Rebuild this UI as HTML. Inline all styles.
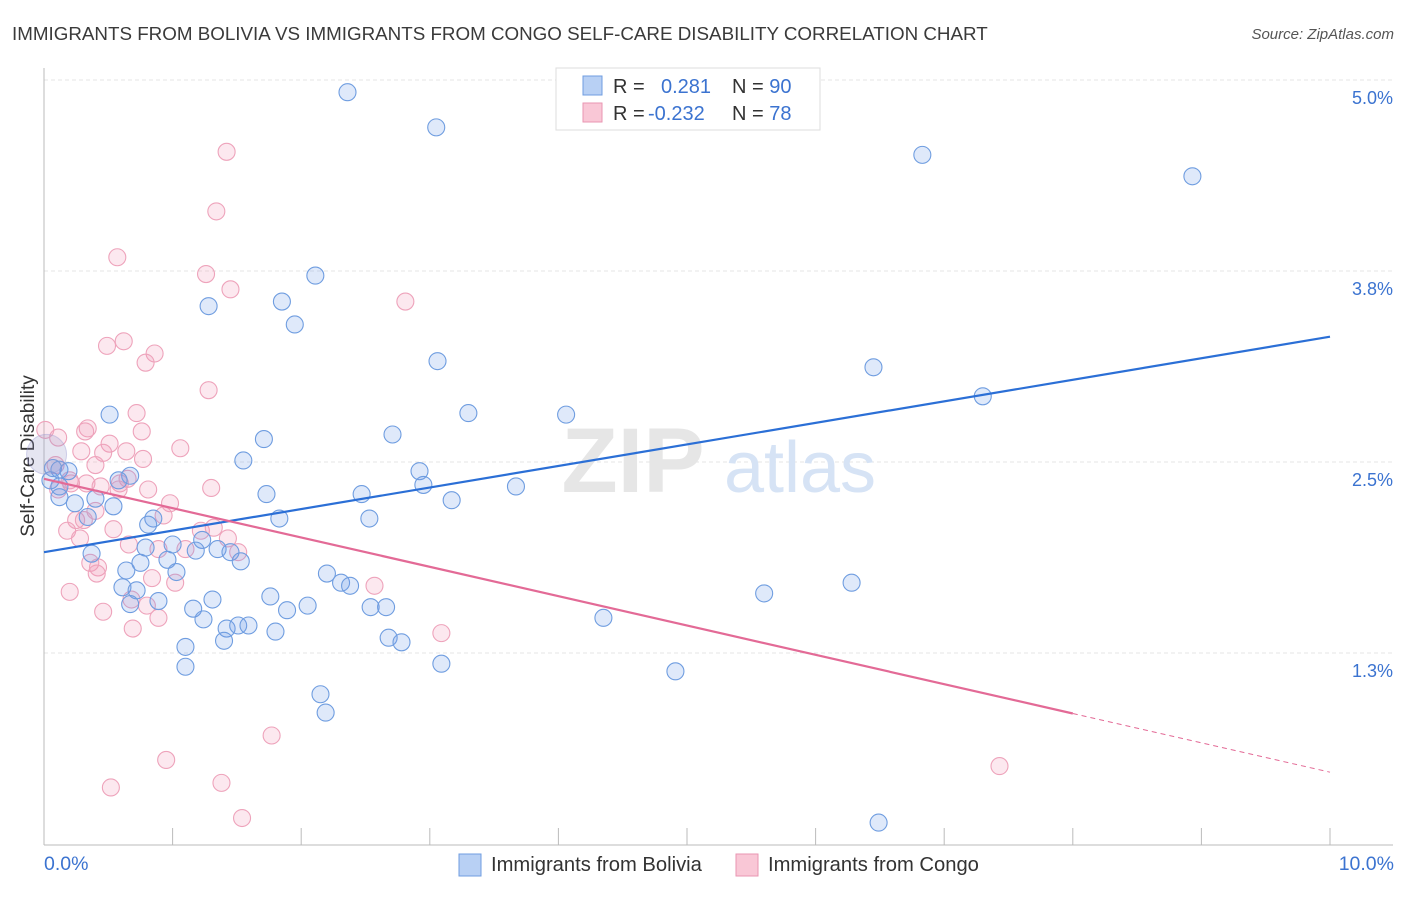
<!DOCTYPE html>
<html><head><meta charset="utf-8"><style>
body{margin:0;background:#fff;font-family:"Liberation Sans",sans-serif}
svg text{font-family:"Liberation Sans",sans-serif}
</style></head><body>
<svg width="1406" height="892" viewBox="0 0 1406 892" xmlns="http://www.w3.org/2000/svg">
<text x="12" y="40" font-size="18.8" fill="#3a3a3a">IMMIGRANTS FROM BOLIVIA VS IMMIGRANTS FROM CONGO SELF-CARE DISABILITY CORRELATION CHART</text>
<text x="1394" y="39" font-size="15" fill="#555" text-anchor="end" font-style="italic">Source: ZipAtlas.com</text>
<g id="grid"></g>
<g><text x="633" y="492" font-size="92" font-family="Liberation Serif" fill="#e6e6e6" text-anchor="middle" font-weight="bold">ZIP</text><text x="800" y="492" font-size="72" fill="#d6e3f5" text-anchor="middle">atlas</text></g>
<line x1="44" y1="68" x2="44" y2="845" stroke="#bbb"/>
<line x1="44" y1="845" x2="1393" y2="845" stroke="#bbb"/>
<g id="xticks"></g>
<g id="yticks"></g>
<text x="44" y="870" font-size="19.5" fill="#3b73d0">0.0%</text>
<text x="1394" y="870" font-size="19.5" fill="#3b73d0" text-anchor="end">10.0%</text>
<text transform="translate(34,456) rotate(-90)" font-size="19" fill="#333" text-anchor="middle">Self-Care Disability</text>
<g id="pink"></g>
<g id="blue"></g>
<g id="lines"></g>
<g>
<rect x="556" y="68" width="264" height="62" fill="#fff" stroke="#ddd"/>
<rect x="583" y="76" width="19" height="19" fill="#b8d0f4" stroke="#6f9de0"/>
<rect x="583" y="103" width="19" height="19" fill="#f9c7d6" stroke="#e996b2"/>
<text x="613" y="93" font-size="20" fill="#333">R = <tspan fill="#3b73d0" x="661">0.281</tspan><tspan x="732" fill="#333">N = </tspan><tspan fill="#3b73d0">90</tspan></text>
<text x="613" y="120" font-size="20" fill="#333">R = <tspan fill="#3b73d0" x="648">-0.232</tspan><tspan x="732" fill="#333">N = </tspan><tspan fill="#3b73d0">78</tspan></text>
</g>
<g>
<rect x="459" y="854" width="22" height="22" fill="#b8d0f4" stroke="#6f9de0"/>
<text x="491" y="871" font-size="20.2" fill="#333">Immigrants from Bolivia</text>
<rect x="736" y="854" width="22" height="22" fill="#f9c7d6" stroke="#e996b2"/>
<text x="768" y="871" font-size="20.2" fill="#333">Immigrants from Congo</text>
</g>
</svg>
<script>
const yTickValues=[5.0,3.75,2.5,1.25];
const yTickLabels=["5.0%","3.8%","2.5%","1.3%"];
const xTickValues=[0,1,2,3,4,5,6,7,8,9,10];
const boliviaX=[2.36,3.05,6.83,8.93,2.11,1.85,1.28,1.95,3.06,6.45,7.30,0.51,3.30,4.06,1.71,2.71,1.55,2.92,3.67,2.95,1.73,2.47,3.17,0.12,0.24,0.54,0.40,0.67,0.58,0.34,1.83,2.53,0.85,0.81,1.00,1.23,0.79,0.37,1.18,1.35,1.45,1.53,0.96,0.75,0.64,1.03,2.20,2.31,2.38,0.61,0.72,1.31,1.76,0.67,0.89,1.16,1.89,2.05,2.54,2.66,1.24,4.35,5.60,6.28,1.42,1.51,1.59,1.80,1.40,2.68,2.78,1.10,1.10,3.09,4.91,2.15,2.19,6.49,0.12,0.19,0.05,0.07,0.12,0.30];
const boliviaY=[4.92,4.69,4.51,4.37,3.72,3.55,3.52,3.40,3.16,3.12,2.93,2.81,2.82,2.81,2.65,2.68,2.51,2.44,2.34,2.35,2.29,2.29,2.25,2.27,2.23,2.21,2.26,2.41,2.38,2.14,2.13,2.13,2.13,2.09,1.96,1.99,1.94,1.90,1.92,1.93,1.91,1.85,1.86,1.84,1.79,1.78,1.77,1.71,1.69,1.68,1.66,1.60,1.62,1.57,1.59,1.54,1.53,1.56,1.55,1.55,1.47,1.48,1.64,1.71,1.41,1.43,1.43,1.39,1.33,1.35,1.32,1.29,1.16,1.18,1.13,0.98,0.86,0.14,2.45,2.44,2.38,2.46,2.34,2.25];
const congoX=[1.42,1.34,0.57,1.26,1.45,2.81,0.62,0.49,0.86,0.79,1.28,0.72,0.34,0.32,0.76,0.51,0.11,0.29,1.06,0.64,0.46,0.77,0.40,0.65,0.59,0.21,0.33,0.44,0.81,1.30,0.58,0.98,0.40,0.93,0.25,0.31,0.18,0.54,1.22,1.32,1.43,0.66,0.28,0.89,1.10,1.51,0.36,0.42,0.41,0.84,1.02,2.57,0.20,0.68,0.46,0.80,0.89,0.69,3.09,1.77,0.95,0.52,1.38,1.54,7.43,0.09,0.01,0.11,0.20];
const congoY=[4.53,4.14,3.84,3.73,3.63,3.55,3.29,3.26,3.21,3.15,2.97,2.82,2.72,2.70,2.70,2.62,2.66,2.57,2.59,2.57,2.56,2.52,2.48,2.39,2.36,2.36,2.36,2.34,2.32,2.33,2.32,2.23,2.18,2.15,2.12,2.12,2.05,2.06,2.05,2.07,2.00,1.96,2.00,1.93,1.93,1.91,1.84,1.81,1.77,1.74,1.71,1.69,1.65,1.60,1.52,1.56,1.48,1.41,1.38,0.71,0.55,0.37,0.40,0.17,0.51,2.48,2.71,2.32,2.38];
const boliviaTrend=[1.91,3.32];
const congoTrend=[2.39,0.47];
const congoSolidEnd=8;
const NS="http://www.w3.org/2000/svg";
function sx(v){return 44+v*128.6;}
function sy(v){return 844-v*152.8;}
function mk(t,a,p){const e=document.createElementNS(NS,t);for(const k in a)e.setAttribute(k,a[k]);p.appendChild(e);return e;}
const grid=document.getElementById('grid'),yt=document.getElementById('yticks'),xt=document.getElementById('xticks');
yTickValues.forEach((v,i)=>{
 const l=mk('line',{x1:44,x2:1393,y1:sy(v),y2:sy(v),stroke:'#e4e4e4','stroke-dasharray':'4,3'},grid);
 
 
 const t=mk('text',{x:1393,y:sy(v)+24,'font-size':18,fill:'#3b73d0','text-anchor':'end'},yt);
 t.textContent=yTickLabels[i];
 
 
});
xTickValues.forEach(v=>{
 const l=mk('line',{x1:sx(v),x2:sx(v),y1:828,y2:845,stroke:'#bbb'},xt);
 
 
});
const pg=document.getElementById('pink'),bg=document.getElementById('blue');
congoX.forEach((x,i)=>{
 const c=mk('circle',{cx:sx(x),cy:sy(congoY[i]),r:8.5,fill:'rgba(242,150,180,0.22)',stroke:'#eea3bb','stroke-width':1.1},pg);
 
 
});
boliviaX.forEach((x,i)=>{
 const c=mk('circle',{cx:sx(x),cy:sy(boliviaY[i]),r:i==boliviaX.length-1?0:8.5,fill:'rgba(110,155,230,0.22)',stroke:'#6f9de0','stroke-width':1.1},bg);
 
 
});
const big=mk('circle',{cx:sx(0.02),cy:sy(2.55),r:20,fill:'rgba(150,150,200,0.25)',stroke:'rgba(150,150,210,0.4)'},bg);


const lg=document.getElementById('lines');
const bl=mk('line',{x1:sx(0),y1:sy(boliviaTrend[0]),x2:sx(10),y2:sy(boliviaTrend[1]),stroke:'#2b6fd6','stroke-width':2.2},lg);


const yEnd=congoTrend[0]+(congoTrend[1]-congoTrend[0])*congoSolidEnd/10;
const pl=mk('line',{x1:sx(0),y1:sy(congoTrend[0]),x2:sx(congoSolidEnd),y2:sy(yEnd),stroke:'#e36a96','stroke-width':2.2},lg);


const pd=mk('line',{x1:sx(congoSolidEnd),y1:sy(yEnd),x2:sx(10),y2:sy(congoTrend[1]),stroke:'#e36a96','stroke-width':1,'stroke-dasharray':'5,4'},lg);


</script>
</body></html>
